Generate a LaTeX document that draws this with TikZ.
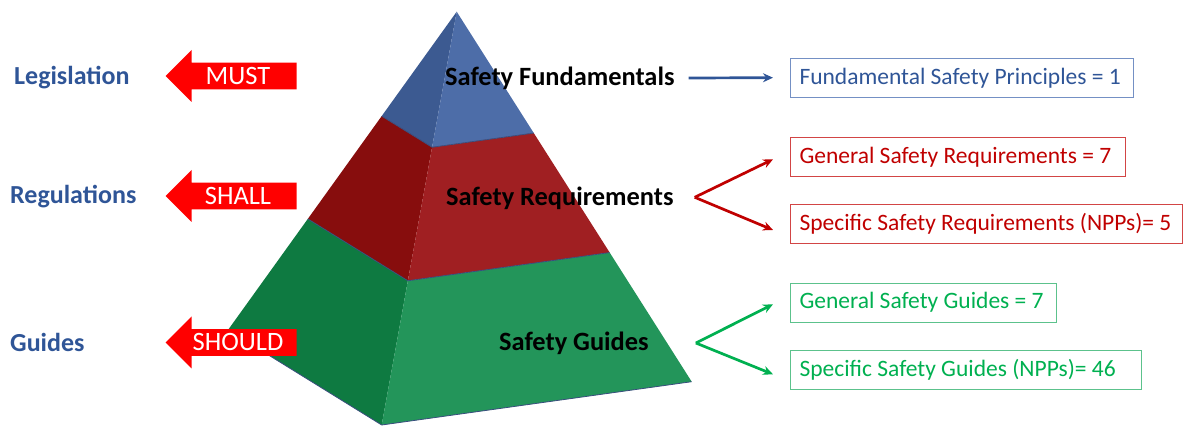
\documentclass[tikz,border=0pt]{standalone}
\usepackage{fontspec}
\setmainfont{Carlito}
\usetikzlibrary{calc,arrows.meta}
\definecolor{hdblue}{HTML}{2F5597}
\definecolor{bldark}{HTML}{3C5A91}
\definecolor{bllight}{HTML}{4D6DA8}
\definecolor{rddark}{HTML}{870D0D}
\definecolor{rdlight}{HTML}{A01F22}
\definecolor{grdark}{HTML}{0E7A41}
\definecolor{grlight}{HTML}{23955A}
\definecolor{txred}{HTML}{C00000}
\definecolor{txgreen}{HTML}{00B050}
\definecolor{bxblue}{HTML}{7490C4}
\definecolor{bxred}{HTML}{D24545}
\definecolor{bxgreen}{HTML}{5CC28C}
\definecolor{edgecol}{HTML}{3A4E7E}
\newcommand\boxtext[2]{\makebox[#1][l]{#2}}
\tikzset{
  lefttitle/.style={anchor=west, inner sep=0pt, font=\fontsize{26}{31}\selectfont\bfseries, text=hdblue},
  pyrtext/.style={anchor=west, inner sep=0pt, font=\fontsize{26.4}{31}\selectfont\bfseries, text=black},
  arrowword/.style={inner sep=0pt, font=\fontsize{26.5}{31}\selectfont, text=white},
  box/.style={draw, line width=1pt, anchor=west, inner xsep=9pt, inner ysep=0pt,
    minimum height=39pt, font=\fontsize{23.5}{28}\selectfont},
  conn/.style={line width=2.7pt, -{Stealth[length=10pt,width=9pt]}},
  blockarrow/.style={fill=red},
}
\begin{document}
\begin{tikzpicture}[x=1pt,y=-1pt]
\useasboundingbox (0,0) rectangle (1184,427);
% pyramid
\coordinate (A) at (456.7,11.7);
\coordinate (L) at (228,330);
\coordinate (R) at (381.7,425);
\coordinate (Rt) at (691.7,381.7);
\coordinate (L1) at ($(A)!0.328!(L)$);
\coordinate (L2) at ($(A)!0.651!(L)$);
\coordinate (R1) at ($(A)!0.328!(R)$);
\coordinate (R2) at ($(A)!0.651!(R)$);
\coordinate (Rt1) at ($(A)!0.328!(Rt)$);
\coordinate (Rt2) at ($(A)!0.651!(Rt)$);
\fill[bldark] (A) -- (L1) -- (R1) -- cycle;
\fill[bllight] (A) -- (R1) -- (Rt1) -- cycle;
\fill[rddark] (L1) -- (L2) -- (R2) -- (R1) -- cycle;
\fill[rdlight] (R1) -- (R2) -- (Rt2) -- (Rt1) -- cycle;
\fill[grdark] (L2) -- (L) -- (R) -- (R2) -- cycle;
\fill[grlight] (R2) -- (R) -- (Rt) -- (Rt2) -- cycle;
\draw[edgecol, line width=0.8pt, line join=round] (L1) -- (R1) -- (Rt1) (L2) -- (R2) -- (Rt2) (L) -- (R) -- (Rt);
% block arrows
\foreach \yy/\nm/\nid in {76/MUST/a, 196/SHALL/b, 342.5/SHOULD/c}{
  \fill[blockarrow] (165.7,\yy) -- (191.7,\yy-26) -- (191.7,\yy-13.3) -- (296.7,\yy-13.3)
     -- (296.7,\yy+13.3) -- (191.7,\yy+13.3) -- (191.7,\yy+26) -- cycle;
  \node[arrowword] (w\nid) at (238,\yy) {\nm};
}
% left titles
\node[lefttitle] (leg) at (14,78) {Legislation};
\node[lefttitle] (reg) at (10,197) {Regulations};
\node[lefttitle] (gui) at (10,342) {Guides};
% pyramid labels
\node[pyrtext] (sf) at (445,78) {Safety Fundamentals};
\node[pyrtext] (sr) at (446,198) {Safety Requirements};
\node[pyrtext] (sg) at (499,343) {Safety Guides};
% boxes
\node[box, draw=bxblue, text=hdblue] (b1) at (790,78.5) {\boxtext{325pt}{Fundamental Safety Principles = 1}};
\node[box, draw=bxred, text=txred] (b2) at (790,157) {\boxtext{317pt}{General Safety Requirements = 7}};
\node[box, draw=bxred, text=txred] (b3) at (790,223.8) {\boxtext{374pt}{Specific Safety Requirements (NPPs)= 5}};
\node[box, draw=bxgreen, text=txgreen] (b4) at (790,302.7) {\boxtext{248pt}{General Safety Guides = 7}};
\node[box, draw=bxgreen, text=txgreen] (b5) at (790,369.7) {\boxtext{333pt}{Specific Safety Guides (NPPs)= 46}};
% connectors
\draw[conn, hdblue] ($(sf.east)+(14,0)$) -- ($(b1.west)+(-17,-0.8)$);
\coordinate (fr) at ($(sr.east)+(21,-0.7)$);
\draw[conn, txred, line join=miter] (fr) -- ($(b2.west)+(-17,2.3)$);
\draw[conn, txred] (fr) -- ($(b3.west)+(-17,6.2)$);
\coordinate (fg) at ($(sg.east)+(47,0)$);
\draw[conn, txgreen] (fg) -- ($(b4.west)+(-17,1.6)$);
\draw[conn, txgreen] (fg) -- ($(b5.west)+(-17,4.6)$);
\end{tikzpicture}
\end{document}
